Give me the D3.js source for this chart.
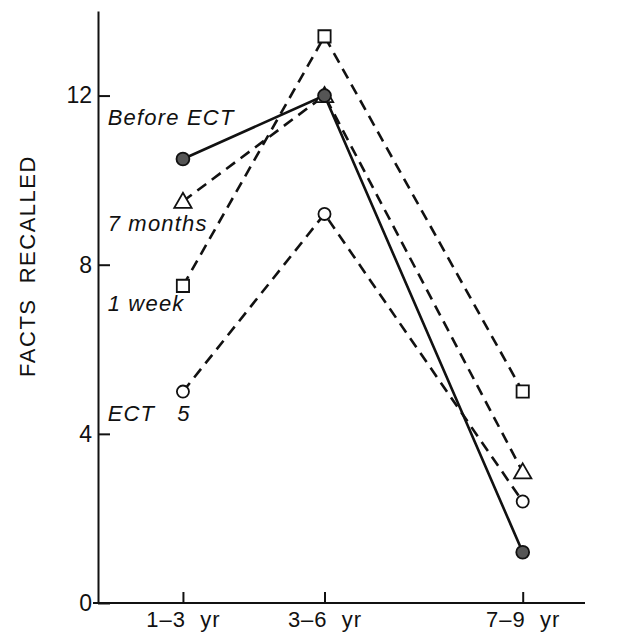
<!DOCTYPE html>
<html>
<head>
<meta charset="utf-8">
<script src="https://cdn.jsdelivr.net/npm/d3@7"></script>
<style>
  body { margin: 0; background: #fff; }
  text { font-family: "Liberation Sans", Arial, sans-serif; fill: #111; }
</style>
</head>
<body>
<div id="chart"></div>
<script>
// age bands, plotted at their midpoints (years)
const ageLabels = ["1\u20133\u00a0\u00a0yr", "3\u20136\u00a0\u00a0yr", "7\u20139\u00a0\u00a0yr"];
const ageMid = [2, 4.5, 8];

const seriesNames = ["1 week", "7 months", "ECT 5", "Before ECT"];
const oneWeek = [7.5, 13.4, 5.0];
const sevenMonths = [9.5, 12.0, 3.1];
const ect5 = [5.0, 9.2, 2.4];
const beforeEct = [10.5, 12.0, 1.2];

const yTicks = [0, 4, 8, 12];

const width = 638, height = 635;
const margin = { top: 11, right: 53, bottom: 32, left: 98 };

const svg = d3.select("#chart").append("svg")
  .attr("width", width)
  .attr("height", height);

const x = d3.scaleLinear()
  .domain([0.5, 9.1])
  .range([margin.left, width - margin.right]);

const y = d3.scaleLinear()
  .domain([0, 14])
  .range([height - margin.bottom, margin.top]);

// axes
const yAxis = svg.append("g")
  .attr("transform", `translate(${margin.left},0)`)
  .call(d3.axisLeft(y).tickValues(yTicks).tickSizeInner(-12).tickSizeOuter(0).tickPadding(6));

const xAxis = svg.append("g")
  .attr("transform", `translate(0,${height - margin.bottom})`)
  .call(d3.axisBottom(x).tickValues(ageMid).tickFormat((d, i) => ageLabels[i])
    .tickSizeInner(-11).tickSizeOuter(0).tickPadding(8));

[yAxis, xAxis].forEach(g => {
  g.selectAll("path, line").attr("stroke", "#111").attr("stroke-width", 2);
  g.selectAll("text").attr("fill", "#111")
    .style("font-family", '"Liberation Sans", Arial, sans-serif');
});
yAxis.selectAll("text").attr("font-size", 23);
xAxis.selectAll("text").attr("font-size", 22).attr("letter-spacing", 1);
xAxis.select(".domain").attr("d", `M${margin.left - 5},0H${width - margin.right}`);

// y title
svg.append("text")
  .attr("transform", "translate(35,266) rotate(-90)")
  .attr("text-anchor", "middle")
  .attr("font-size", 22)
  .attr("letter-spacing", 1.5)
  .text("FACTS\u00a0\u00a0RECALLED");

const series = [
  { name: seriesNames[0], values: oneWeek, dashed: true, marker: "square" },
  { name: seriesNames[1], values: sevenMonths, dashed: true, marker: "triangle" },
  { name: seriesNames[2], values: ect5, dashed: true, marker: "circle" },
  { name: seriesNames[3], values: beforeEct, dashed: false, marker: "dot" }
];

const line = d3.line()
  .x((d, i) => x(ageMid[i]))
  .y(d => y(d));

svg.selectAll(".series-line")
  .data(series)
  .join("path")
  .attr("class", "series-line")
  .attr("d", d => line(d.values))
  .attr("fill", "none")
  .attr("stroke", "#111")
  .attr("stroke-width", 2.6)
  .attr("stroke-dasharray", d => d.dashed ? "11,7" : null);

const symbols = {
  square: d3.symbol().type(d3.symbolSquare).size(150),
  triangle: d3.symbol().type(d3.symbolTriangle).size(130),
  circle: d3.symbol().type(d3.symbolCircle).size(115),
  dot: d3.symbol().type(d3.symbolCircle).size(130)
};

const points = series.flatMap(s => s.values.map((v, i) => ({ s, v, i })));

svg.selectAll(".marker")
  .data(points)
  .join("path")
  .attr("class", "marker")
  .attr("transform", d => `translate(${x(ageMid[d.i])},${y(d.v) + (d.s.marker === "triangle" ? 1.5 : 0)})`)
  .attr("d", d => symbols[d.s.marker]())
  .attr("fill", d => d.s.marker === "dot" ? "#555" : "#fff")
  .attr("stroke", "#111")
  .attr("stroke-width", 1.8);

// series labels, tied to the 1-3 yr column
const labelX = x(0.67);
const labels = [
  { text: "Before ECT", y: y(11.3) },
  { text: "7 months", y: y(8.8) },
  { text: "1 week", y: y(6.9) },
  { text: "ECT\u00a0\u00a0\u00a05", y: y(4.3) }
];
svg.selectAll(".series-label")
  .data(labels)
  .join("text")
  .attr("class", "series-label")
  .attr("x", labelX)
  .attr("y", d => d.y)
  .attr("font-size", 22)
  .attr("font-style", "italic")
  .attr("letter-spacing", 1.2)
  .text(d => d.text);
</script>
</body>
</html>
